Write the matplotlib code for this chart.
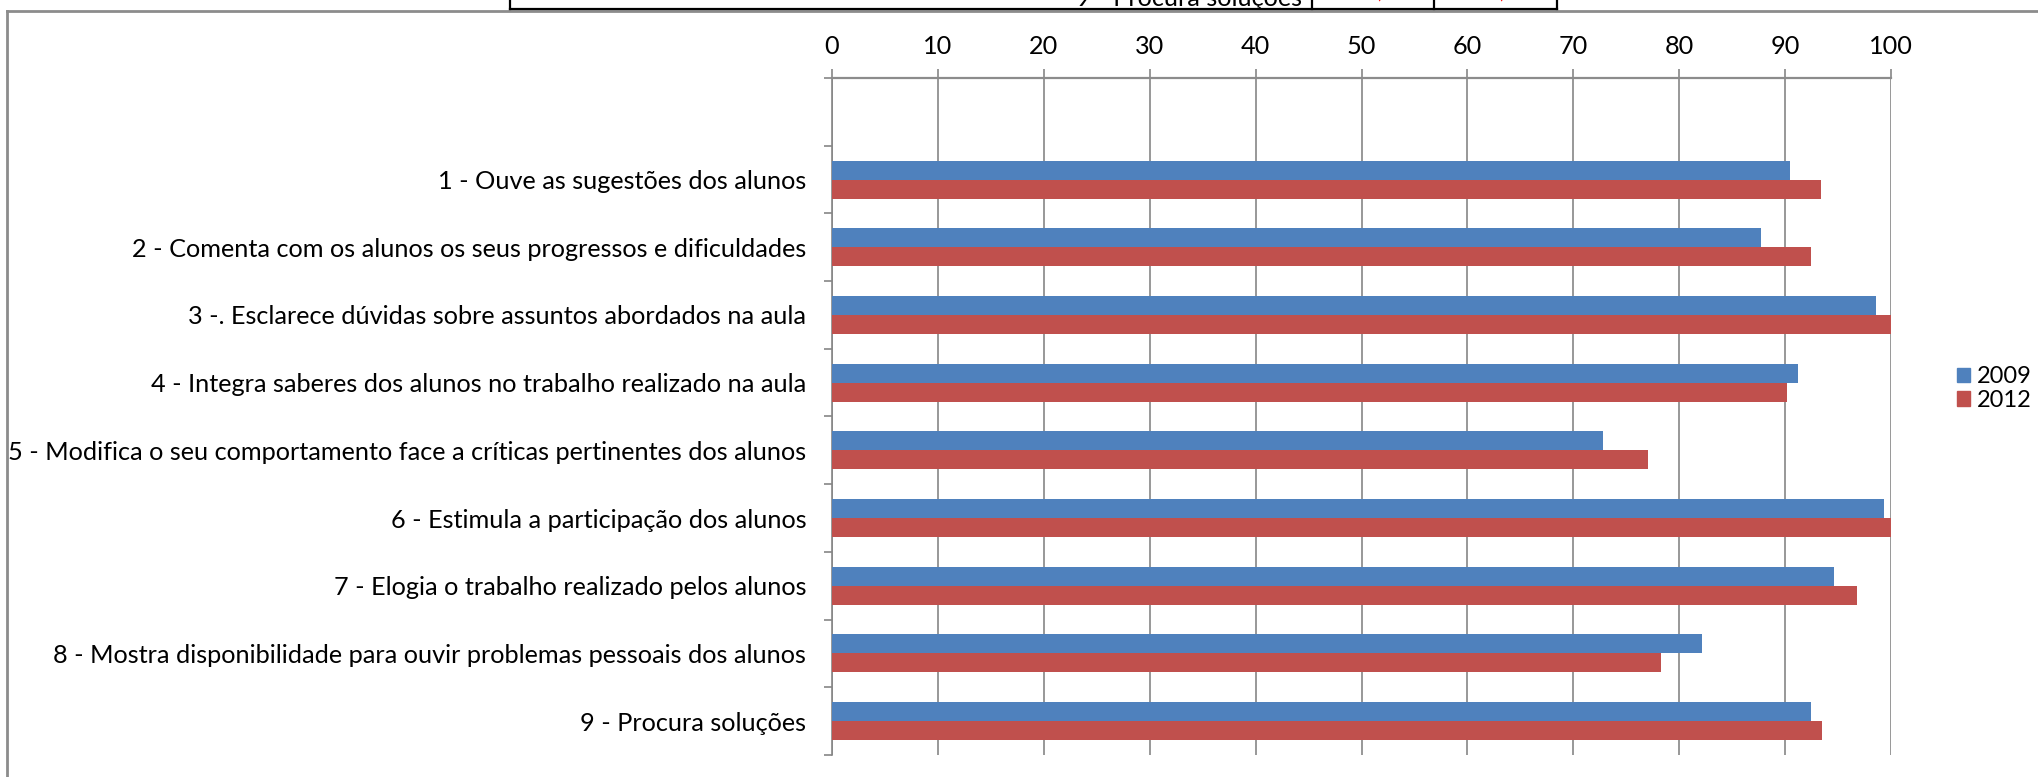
import numpy as np
import matplotlib.pyplot as plt
from matplotlib.lines import Line2D
from matplotlib.patches import Patch

plt.rcParams['font.family'] = ['Lato', 'DejaVu Sans']

categorias = [
    '1 - Ouve as sugestões dos alunos',
    '2 - Comenta com os alunos os seus progressos e dificuldades',
    '3 -. Esclarece dúvidas sobre assuntos abordados na aula',
    '4 - Integra saberes dos alunos no trabalho realizado na aula',
    '5 - Modifica o seu comportamento face a críticas pertinentes dos alunos',
    '6 - Estimula a participação dos alunos',
    '7 - Elogia o trabalho realizado pelos alunos',
    '8 - Mostra disponibilidade para ouvir problemas pessoais dos alunos',
    '9 - Procura soluções',
]
v2009 = [90.5, 87.7, 98.6, 91.2, 72.8, 99.3, 94.6, 82.2, 92.4]
v2012 = [93.4, 92.4, 100.0, 90.2, 77.1, 100.0, 96.8, 78.3, 93.5]
anos = ['2009', '2012']
cores = ['#4F81BD', '#C0504D']
# linha da tabela que aparece cortada no topo
tabela_texto = '9 - Procura soluções'
tabela_valores = ['92,4', '93,5']

FS = 18.2
W, H = 2038, 777
fig = plt.figure(figsize=(W / 100, H / 100), dpi=100)
ax = fig.add_axes([832 / W, 1 - 755 / H, (1891 - 832) / W, (755 - 78) / H])

y = np.arange(1, len(categorias) + 1)
h = 0.28
ax.barh(y - h / 2, v2009, height=h, color=cores[0], label=anos[0], zorder=3)
ax.barh(y + h / 2, v2012, height=h, color=cores[1], label=anos[1], zorder=3)

ax.set_xlim(0, 100)
ax.set_ylim(len(categorias) + 0.5, -0.5)
ax.set_xticks(np.arange(0, 101, 10))
ax.xaxis.tick_top()
ax.tick_params(axis='x', which='major', direction='out', length=6.5, width=1.2,
               color='#868686', labelsize=FS, pad=8)
ax.set_yticks(y)
ax.set_yticklabels(categorias, fontsize=FS)
ax.set_yticks(np.arange(-0.5, len(categorias) + 1), minor=True)
ax.tick_params(axis='y', which='major', length=0, pad=18.5)
ax.tick_params(axis='y', which='minor', direction='out', length=6, width=1.2, color='#868686')
ax.grid(axis='x', color='#868686', linewidth=1.2, zorder=0)
ax.set_axisbelow(True)
for s in ['right', 'bottom']:
    ax.spines[s].set_visible(False)
ax.spines['top'].set_color('#8c8c8c')
ax.spines['top'].set_linewidth(1.6)
ax.spines['left'].set_color('#868686')
ax.spines['left'].set_linewidth(1.2)

handles = [Patch(color=c) for c in cores]
fig.legend(handles, anos, loc='upper left', bbox_to_anchor=(1957 / W, 1 - 366 / H),
           frameon=False, fontsize=17, handlelength=0.55, handleheight=0.55,
           handletextpad=0.3, labelspacing=0.12, borderpad=0, borderaxespad=0)

# borda da area do grafico
def px(x0, y0, x1, y1, **kw):
    fig.add_artist(Line2D([x0 / W, x1 / W], [1 - y0 / H, 1 - y1 / H],
                          transform=fig.transFigure, **kw))

px(7, 11, W, 11, color='#8c8c8c', linewidth=2)
px(7, 11, 7, H, color='#8c8c8c', linewidth=2)

# tabela cortada no topo
px(510, 0, 510, 9, color='black', linewidth=1.6)
px(510, 9, 1557, 9, color='black', linewidth=1.6)
for xl in [1312, 1434, 1557]:
    px(xl, 0, xl, 9, color='black', linewidth=1.6)
fig.text(1302 / W, 1 - 6 / H, tabela_texto, ha='right', va='baseline', fontsize=FS)
fig.text(1373 / W, 1 + 2 / H, tabela_valores[0], ha='center', va='baseline', fontsize=FS, color='red')
fig.text(1496 / W, 1 + 2 / H, tabela_valores[1], ha='center', va='baseline', fontsize=FS, color='red')

fig.savefig('out.png', dpi=100)
